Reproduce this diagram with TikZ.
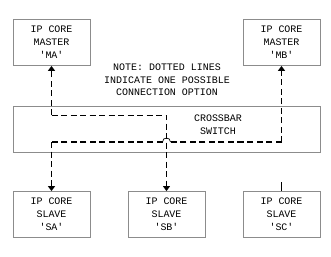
\documentclass[tikz,border=0pt]{standalone}
\usepackage{fontspec}
\setmonofont{Liberation Mono}
\usepackage{tikz}
\usetikzlibrary{arrows.meta}

\begin{document}
\begin{tikzpicture}[x=1bp,y=-1bp,
  core/.style={draw=black!45,line width=0.8bp,fill=white,minimum width=77bp,minimum height=46bp,
    align=center,font=\ttfamily\fontsize{10}{13}\selectfont,inner sep=0pt},
  thickdash/.style={line width=1.9bp,dash pattern=on 6bp off 3.5bp},
  thindash/.style={line width=0.7bp,dash pattern=on 6bp off 3.5bp},
  tip/.style={-{Triangle[width=7bp,length=5bp]}}]
\useasboundingbox (0,0) rectangle (331,257);
\node[core] (ma) at (51.5,42.5) {IP CORE\\MASTER\\'MA'};
\node[core] (mb) at (281.5,42.5) {IP CORE\\MASTER\\'MB'};
\node[core,minimum width=307bp] (xbar) at (166.5,129) {};
\node[core] (sa) at (51.5,214.5) {IP CORE\\SLAVE\\'SA'};
\node[core] (sb) at (166.5,214.5) {IP CORE\\SLAVE\\'SB'};
\node[core] (sc) at (281.5,214.5) {IP CORE\\SLAVE\\'SC'};
\node[align=center,font=\ttfamily\fontsize{10}{12.5}\selectfont] (note) at (167,80)
  {NOTE: DOTTED LINES\\INDICATE ONE POSSIBLE\\CONNECTION OPTION};
\node[align=center,font=\ttfamily\fontsize{10}{13}\selectfont] (sw) at (218,124.5) {CROSSBAR\\SWITCH};
% path from MA to SB
\coordinate (ca) at (ma.south |- 0,115);
\coordinate (cb) at (sb.north |- 0,115);
\draw[thickdash,tip] (ca) -- (ma.south);
\draw[thindash,tip] (ca) -- (cb) -- (sb.north);
% path from MB to SA, hopping over the line to SB
\coordinate (cc) at (mb.south |- 0,142);
\coordinate (cd) at (sa.north |- 0,142);
\coordinate (hop) at (cb |- cc);
\draw[thickdash,tip] (cc) -- (mb.south);
\draw[thickdash] (cc) -- ([xshift=4bp]hop);
\draw[line width=0.7bp] ([xshift=4bp]hop) .. controls +(0,-5.3) and +(0,-5.3) .. ([xshift=-4bp]hop);
\draw[thickdash] ([xshift=-4bp]hop) -- (cd);
\draw[thickdash,tip] (cd) -- (sa.north);
\draw[line width=1.9bp] (sc.north) -- ++(0,-9);
\end{tikzpicture}
\end{document}
